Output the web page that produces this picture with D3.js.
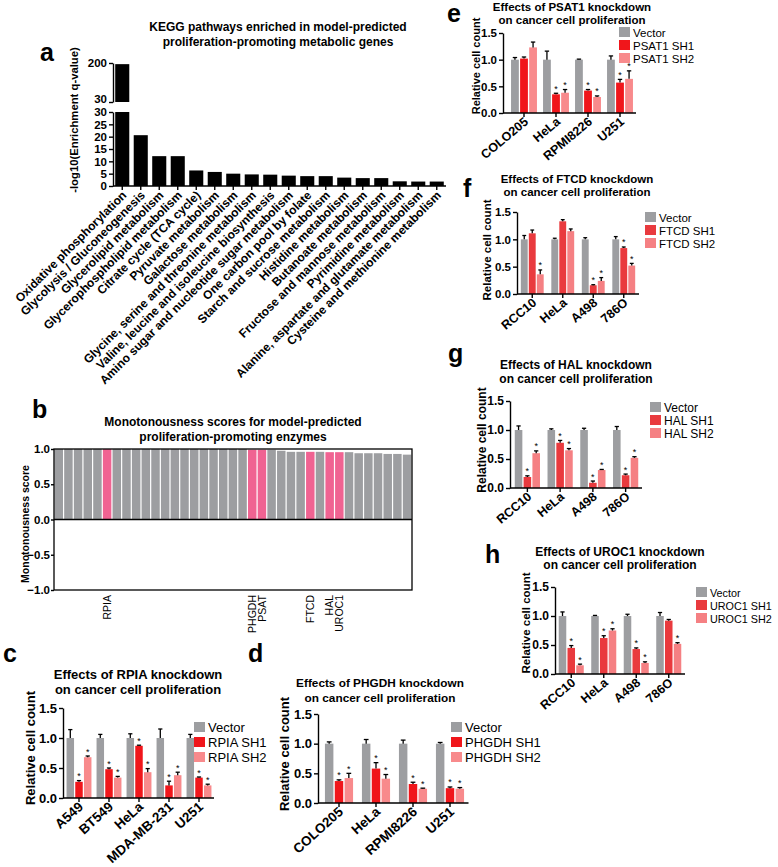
<!DOCTYPE html>
<html><head><meta charset="utf-8">
<script src="https://cdn.jsdelivr.net/npm/d3@7"></script>
<style>
body{margin:0;background:#fff;}
svg{display:block;font-family:"Liberation Sans",Arial,Helvetica,sans-serif;}
</style></head><body>
<svg id="fig" width="778" height="867"></svg>
<script>
// ---------- Panel a data ----------
const keggPathways = ["Oxidative phosphorylation","Glycolysis / Gluconeogenesis","Glycerolipid metabolism","Glycerophospholipid metabolism","Citrate cycle (TCA cycle)","Pyruvate metabolism","Galactose metabolism","Glycine, serine and threonine metabolism","Valine, leucine and isoleucine biosynthesis","Amino sugar and nucleotide sugar metabolism","One carbon pool by folate","Starch and sucrose metabolism","Histidine metabolism","Butanoate metabolism","Fructose and mannose metabolism","Pyrimidine metabolism","Alanine, aspartate and glutamate metabolism","Cysteine and methionine metabolism"];
const keggScores = [195, 20.6, 12.1, 12.1, 6.3, 5.7, 5.0, 4.7, 4.6, 4.2, 4.0, 4.0, 3.4, 3.2, 3.2, 1.9, 1.8, 1.8];
const keggLowerTicks = [0, 5, 10, 15, 20, 25, 30];
const keggUpperTicks = [30, 200];

// ---------- Panel b data ----------
const monoScores = [1,1,1,1,1,1,1,1,1,1,1,1,1,1,1,1,1,1,1,1,0.99,0.99,0.99,0.975,0.96,0.96,0.96,0.96,0.955,0.955,0.955,0.94,0.94,0.94,0.93,0.93,0.92];
const monoLabels = ["","","","","","RPIA","","","","","","","","","","","","","","","PHGDH","PSAT","","","","","FTCD","","HAL","UROC1","","","","","","",""];
const monoTicks = [-1, -0.5, 0, 0.5, 1];

// ---------- Knockdown panels data ----------
const kdTicks = [0, 0.5, 1.0, 1.5];

const rpiaCells = ["A549","BT549","HeLa","MDA-MB-231","U251"];
const rpiaLegend = ["Vector","RPIA SH1","RPIA SH2"];
const rpiaVector = [1,1,1,1,1];
const rpiaVectorErr = [0.14,0.06,0.07,0.15,0.06];
const rpiaSH1 = [0.27,0.48,0.87,0.21,0.34];
const rpiaSH1Err = [0.02,0.02,0.01,0.07,0.01];
const rpiaSH2 = [0.68,0.34,0.43,0.38,0.21];
const rpiaSH2Err = [0.02,0.02,0.06,0.05,0.02];
const rpiaSH1Sig = [1,1,1,1,1];
const rpiaSH2Sig = [1,1,1,1,1];

const phgdhCells = ["COLO205","HeLa","RPMI8226","U251"];
const phgdhLegend = ["Vector","PHGDH SH1","PHGDH SH2"];
const phgdhVector = [1,1,1,1];
const phgdhVectorErr = [0.03,0.07,0.06,0.02];
const phgdhSH1 = [0.37,0.58,0.32,0.25];
const phgdhSH1Err = [0.02,0.10,0.03,0.02];
const phgdhSH2 = [0.42,0.41,0.24,0.24];
const phgdhSH2Err = [0.08,0.07,0.01,0.02];
const phgdhSH1Sig = [1,1,1,1];
const phgdhSH2Sig = [1,1,1,1];

const psatCells = ["COLO205","HeLa","RPMI8226","U251"];
const psatLegend = ["Vector","PSAT1 SH1","PSAT1 SH2"];
const psatVector = [1,1,1,1];
const psatVectorErr = [0.04,0.16,0.01,0.07];
const psatSH1 = [1.02,0.35,0.42,0.57];
const psatSH1Err = [0.03,0.02,0.02,0.06];
const psatSH2 = [1.23,0.38,0.30,0.64];
const psatSH2Err = [0.10,0.06,0.02,0.15];
const psatSH1Sig = [0,1,1,1];
const psatSH2Sig = [0,1,1,1];

const ftcdCells = ["RCC10","HeLa","A498","786O"];
const ftcdLegend = ["Vector","FTCD SH1","FTCD SH2"];
const ftcdVector = [1,1,1,1];
const ftcdVectorErr = [0.07,0.02,0.03,0.05];
const ftcdSH1 = [1.11,1.33,0.16,0.84];
const ftcdSH1Err = [0.06,0.03,0.01,0.02];
const ftcdSH2 = [0.36,1.15,0.24,0.52];
const ftcdSH2Err = [0.08,0.04,0.06,0.04];
const ftcdSH1Sig = [0,0,1,1];
const ftcdSH2Sig = [1,0,1,1];

const halCells = ["RCC10","HeLa","A498","786O"];
const halLegend = ["Vector","HAL SH1","HAL SH2"];
const halVector = [1,1,1,1];
const halVectorErr = [0.07,0.02,0.03,0.06];
const halSH1 = [0.19,0.78,0.09,0.22];
const halSH1Err = [0.02,0.04,0.03,0.02];
const halSH2 = [0.60,0.65,0.31,0.52];
const halSH2Err = [0.04,0.03,0.01,0.02];
const halSH1Sig = [1,1,1,1];
const halSH2Sig = [1,1,1,1];

const uroc1Cells = ["RCC10","HeLa","A498","786O"];
const uroc1Legend = ["Vector","UROC1 SH1","UROC1 SH2"];
const uroc1Vector = [1,1,1,1];
const uroc1VectorErr = [0.07,0.01,0.03,0.06];
const uroc1SH1 = [0.45,0.62,0.43,0.92];
const uroc1SH1Err = [0.04,0.04,0.02,0.02];
const uroc1SH2 = [0.15,0.75,0.19,0.52];
const uroc1SH2Err = [0.02,0.03,0.02,0.02];
const uroc1SH1Sig = [1,1,1,0];
const uroc1SH2Sig = [1,1,1,1];

// ---------- drawing ----------
const GRAY = "#9d9ea1", PINK = "#f06392";
const RED_A = "#f0161b", LRED_A = "#f88a8c";
const RED_B = "#e93a3e", LRED_B = "#f58083";
const svg = d3.select("#fig");

function styleAxis(g, fs) {
  g.selectAll("path.domain").attr("stroke","#000").attr("stroke-width",1.4);
  g.selectAll(".tick line").attr("stroke","#000").attr("stroke-width",1.4);
  g.selectAll(".tick text").attr("fill","#000").attr("font-weight","bold")
    .attr("font-size",fs).attr("font-family","Liberation Sans, Arial, sans-serif");
}
function letter(t,x,y,fs){
  svg.append("text").attr("x",x).attr("y",y).attr("font-size",fs||25).attr("font-weight","bold").text(t);
}
function title(lines,cx,ys,fs){
  lines.forEach((l,i)=>svg.append("text").attr("x",cx).attr("y",ys[i]).attr("text-anchor","middle")
    .attr("font-size",fs).attr("font-weight","bold").text(l));
}

// ===== Panel a =====
(function(){
  const A = {x0:113, x1:446, yBase:186, yLowTop:112, yUpBot:102, yUpTop:63};
  const g = svg.append("g");
  const x = d3.scaleBand().domain(keggPathways).range([A.x0, A.x1]).paddingInner(0.24).paddingOuter(0.12);
  const yLow = d3.scaleLinear().domain([0,30]).range([A.yBase, A.yLowTop]);
  const yUp = d3.scaleLinear().domain([30,200]).range([A.yUpBot, A.yUpTop]);
  g.selectAll("rect.low").data(keggScores).join("rect").attr("class","low")
    .attr("x",(d,i)=>x(keggPathways[i])).attr("width",x.bandwidth())
    .attr("y",d=>yLow(Math.min(d,30))).attr("height",d=>A.yBase-yLow(Math.min(d,30))).attr("fill","#000");
  g.selectAll("rect.up").data(keggScores.map((d,i)=>({d,i})).filter(o=>o.d>30)).join("rect").attr("class","up")
    .attr("x",o=>x(keggPathways[o.i])).attr("width",x.bandwidth())
    .attr("y",o=>yUp(o.d)).attr("height",o=>A.yUpBot-yUp(o.d)).attr("fill","#000");
  const ay1 = g.append("g").attr("transform",`translate(${A.x0},0)`)
    .call(d3.axisLeft(yLow).tickValues(keggLowerTicks).tickSize(4).tickSizeOuter(0).tickPadding(2));
  styleAxis(ay1, 11.5);
  const ay2 = g.append("g").attr("transform",`translate(${A.x0},0)`)
    .call(d3.axisLeft(yUp).tickValues(keggUpperTicks).tickSize(4).tickSizeOuter(0).tickPadding(2));
  styleAxis(ay2, 11.5);
  ay2.selectAll(".tick text").filter(d=>d===30).attr("dy","0.08em");
  g.append("line").attr("x1",A.x0).attr("x2",A.x1).attr("y1",A.yBase).attr("y2",A.yBase).attr("stroke","#000").attr("stroke-width",1.4);
  g.selectAll("line.xt").data(keggPathways).join("line").attr("class","xt")
    .attr("x1",d=>x(d)+x.bandwidth()/2).attr("x2",d=>x(d)+x.bandwidth()/2)
    .attr("y1",A.yBase).attr("y2",A.yBase+4).attr("stroke","#000").attr("stroke-width",1.4);
  g.selectAll("text.xl").data(keggPathways).join("text").attr("class","xl")
    .attr("transform",d=>`translate(${x(d)+x.bandwidth()/2+5},${A.yBase+10}) rotate(-45)`)
    .attr("text-anchor","end").attr("font-size",12).attr("font-weight","bold").text(d=>d);
  g.append("text").attr("transform",`translate(78,120) rotate(-90)`).attr("text-anchor","middle")
    .attr("font-size",11.3).attr("font-weight","bold").text("-log10(Enrichment q-value)");
  title(["KEGG pathways enriched in model-predicted","proliferation-promoting metabolic genes"],278,[31,46],12);
  letter("a",40,61);
})();

// ===== Panel b =====
(function(){
  const B = {x0:54, x1:412, yTop:449, yBot:590};
  const g = svg.append("g");
  const x = d3.scaleBand().domain(d3.range(monoScores.length)).range([B.x0,B.x1]);
  const y = d3.scaleLinear().domain([-1,1]).range([B.yBot,B.yTop]);
  g.selectAll("rect.bar").data(monoScores).join("rect").attr("class","bar")
    .attr("x",(d,i)=>x(i)+0.5).attr("width",x.bandwidth()-1.2)
    .attr("y",d=>y(d)).attr("height",d=>y(0)-y(d))
    .attr("fill",(d,i)=>monoLabels[i]?PINK:GRAY);
  g.append("rect").attr("x",B.x0).attr("y",B.yTop).attr("width",B.x1-B.x0).attr("height",B.yBot-B.yTop)
    .attr("fill","none").attr("stroke","#000").attr("stroke-width",1.3);
  g.append("line").attr("x1",B.x0).attr("x2",B.x1).attr("y1",y(0)).attr("y2",y(0)).attr("stroke","#000").attr("stroke-width",1.6);
  const ay = g.append("g").attr("transform",`translate(${B.x0},0)`)
    .call(d3.axisLeft(y).tickValues(monoTicks).tickFormat(d3.format(".1f")).tickSize(3).tickSizeOuter(0).tickPadding(1));
  styleAxis(ay, 11.5);
  ay.selectAll("path.domain").remove();
  g.selectAll("text.lab").data(monoLabels.map((l,i)=>({l,i})).filter(o=>o.l)).join("text").attr("class","lab")
    .attr("transform",o=>`translate(${x(o.i)+x.bandwidth()/2+3.5},595) rotate(-90)`)
    .attr("text-anchor","end").attr("font-size",10.5).text(o=>o.l);
  g.append("text").attr("transform",`translate(29,524) rotate(-90)`).attr("text-anchor","middle")
    .attr("font-size",10.5).attr("font-weight","bold").text("Monotonousness score");
  title(["Monotonousness scores for model-predicted","proliferation-promoting enzymes"],233,[426,441],12);
  letter("b",32,418);
})();

// ===== Knockdown panels =====
function kdPanel(p){
  const g = svg.append("g");
  const x0 = d3.scaleBand().domain(p.cells).range(p.xr).paddingInner(p.pad).paddingOuter(p.pad/2);
  const x1 = d3.scaleBand().domain([0,1,2]).range([0,x0.bandwidth()]).paddingInner(0.14);
  const y = d3.scaleLinear().domain([0,1.5]).range([p.yZero,p.yTop]);
  const series = [
    {vals:p.vector, errs:p.vectorErr, sig:null, color:GRAY},
    {vals:p.sh1, errs:p.sh1Err, sig:p.sh1Sig, color:p.c1},
    {vals:p.sh2, errs:p.sh2Err, sig:p.sh2Sig, color:p.c2}];
  const flat = [];
  series.forEach((s,si)=>p.cells.forEach((c,ci)=>flat.push({c,si,v:s.vals[ci],e:s.errs[ci],sig:s.sig?s.sig[ci]:0,color:s.color})));
  const bw = x1.bandwidth();
  const cx = d=>x0(d.c)+x1(d.si)+bw/2;
  g.selectAll("rect.b").data(flat).join("rect").attr("class","b")
    .attr("x",d=>x0(d.c)+x1(d.si)).attr("width",bw)
    .attr("y",d=>y(d.v)).attr("height",d=>p.yZero-y(d.v)).attr("fill",d=>d.color);
  g.selectAll("line.eb").data(flat).join("line").attr("class","eb")
    .attr("x1",cx).attr("x2",cx).attr("y1",d=>y(d.v)).attr("y2",d=>y(d.v+d.e))
    .attr("stroke","#000").attr("stroke-width",1.3);
  g.selectAll("line.cap").data(flat).join("line").attr("class","cap")
    .attr("x1",d=>cx(d)-bw*0.28).attr("x2",d=>cx(d)+bw*0.28).attr("y1",d=>y(d.v+d.e)).attr("y2",d=>y(d.v+d.e))
    .attr("stroke","#000").attr("stroke-width",1.3);
  g.selectAll("text.st").data(flat.filter(d=>d.sig)).join("text").attr("class","st")
    .attr("x",cx).attr("y",d=>y(d.v+d.e)-1.5).attr("text-anchor","middle")
    .attr("font-size",9).text("*");
  const ay = g.append("g").attr("transform",`translate(${p.yAxisX},0)`)
    .call(d3.axisLeft(y).tickValues(kdTicks).tickFormat(d3.format(".1f")).tickSize(4).tickSizeOuter(0).tickPadding(2));
  styleAxis(ay, p.tickFs);
  g.append("line").attr("x1",p.yAxisX).attr("x2",p.xr[1]).attr("y1",p.yZero).attr("y2",p.yZero).attr("stroke","#000").attr("stroke-width",1.4);
  g.selectAll("line.xt").data(p.cells).join("line").attr("class","xt")
    .attr("x1",d=>x0(d)+x0.bandwidth()/2).attr("x2",d=>x0(d)+x0.bandwidth()/2)
    .attr("y1",p.yZero).attr("y2",p.yZero+4).attr("stroke","#000").attr("stroke-width",1.4);
  g.selectAll("text.xl").data(p.cells).join("text").attr("class","xl")
    .attr("transform",d=>`translate(${x0(d)+x0.bandwidth()/2+5},${p.yZero+10}) rotate(${p.angle})`)
    .attr("text-anchor","end").attr("font-size",p.xFs).attr("font-weight","bold").text(d=>d);
  g.append("text").attr("transform",`translate(${p.ytX},${p.ytY}) rotate(-90)`).attr("text-anchor","middle")
    .attr("font-size",p.ytFs).attr("font-weight","bold").text("Relative cell count");
  const cols = [GRAY,p.c1,p.c2];
  p.legend.forEach((l,i)=>{
    g.append("rect").attr("x",p.legX).attr("y",p.legY[i]-5).attr("width",11).attr("height",10).attr("fill",cols[i]);
    g.append("text").attr("x",p.legX+14).attr("y",p.legY[i]+4.5).attr("font-size",p.legFs).text(l);
  });
  title(p.title,p.titleX,p.titleY,p.titleFs);
  letter(p.letter,p.letterX,p.letterY);
}

kdPanel({cells:rpiaCells,legend:rpiaLegend,vector:rpiaVector,vectorErr:rpiaVectorErr,sh1:rpiaSH1,sh1Err:rpiaSH1Err,sh2:rpiaSH2,sh2Err:rpiaSH2Err,sh1Sig:rpiaSH1Sig,sh2Sig:rpiaSH2Sig,
  c1:RED_A,c2:LRED_A,xr:[64,214],pad:0.17,yAxisX:63,yZero:798,yTop:708,tickFs:13,xFs:13.5,angle:-42,
  ytX:35,ytY:748,ytFs:13,legX:194,legY:[727,742,757],legFs:13,
  title:["Effects of RPIA knockdown","on cancer cell proliferation"],titleX:138,titleY:[679,694],titleFs:13,
  letter:"c",letterX:3,letterY:662});

kdPanel({cells:phgdhCells,legend:phgdhLegend,vector:phgdhVector,vectorErr:phgdhVectorErr,sh1:phgdhSH1,sh1Err:phgdhSH1Err,sh2:phgdhSH2,sh2Err:phgdhSH2Err,sh1Sig:phgdhSH1Sig,sh2Sig:phgdhSH2Sig,
  c1:RED_A,c2:LRED_A,xr:[320.5,468.5],pad:0.24,yAxisX:318,yZero:803,yTop:714,tickFs:13,xFs:13.5,angle:-42,
  ytX:289,ytY:754,ytFs:13,legX:451,legY:[727,742,757],legFs:13,
  title:["Effects of PHGDH knockdown","on cancer cell proliferation"],titleX:380,titleY:[687,702],titleFs:11.8,
  letter:"d",letterX:248,letterY:662});

kdPanel({cells:psatCells,legend:psatLegend,vector:psatVector,vectorErr:psatVectorErr,sh1:psatSH1,sh1Err:psatSH1Err,sh2:psatSH2,sh2Err:psatSH2Err,sh1Sig:psatSH1Sig,sh2Sig:psatSH2Sig,
  c1:RED_A,c2:LRED_A,xr:[508,636],pad:0.19,yAxisX:503,yZero:113,yTop:33,tickFs:11.5,xFs:12.5,angle:-40,
  ytX:480,ytY:66,ytFs:11,legX:619,legY:[32,45,58],legFs:11.5,
  title:["Effects of PSAT1 knockdown","on cancer cell proliferation"],titleX:572,titleY:[11,24],titleFs:11.5,
  letter:"e",letterX:447,letterY:22});

kdPanel({cells:ftcdCells,legend:ftcdLegend,vector:ftcdVector,vectorErr:ftcdVectorErr,sh1:ftcdSH1,sh1Err:ftcdSH1Err,sh2:ftcdSH2,sh2Err:ftcdSH2Err,sh1Sig:ftcdSH1Sig,sh2Sig:ftcdSH2Sig,
  c1:RED_B,c2:LRED_B,xr:[517,639],pad:0.25,yAxisX:517,yZero:294,yTop:212,tickFs:11.5,xFs:12.5,angle:-40,
  ytX:491,ytY:250,ytFs:11.5,legX:645,legY:[217,230,243],legFs:11.5,
  title:["Effects of FTCD knockdown","on cancer cell proliferation"],titleX:577,titleY:[183,196],titleFs:11.5,
  letter:"f",letterX:463,letterY:197});

kdPanel({cells:halCells,legend:halLegend,vector:halVector,vectorErr:halVectorErr,sh1:halSH1,sh1Err:halSH1Err,sh2:halSH2,sh2Err:halSH2Err,sh1Sig:halSH1Sig,sh2Sig:halSH2Sig,
  c1:RED_B,c2:LRED_B,xr:[511,642],pad:0.23,yAxisX:510,yZero:488,yTop:401,tickFs:12,xFs:12.5,angle:-40,
  ytX:486,ytY:440,ytFs:12,legX:650,legY:[407,420,433],legFs:12,
  title:["Effects of HAL knockdown","on cancer cell proliferation"],titleX:576,titleY:[369,383],titleFs:12,
  letter:"g",letterX:448,letterY:362});

kdPanel({cells:uroc1Cells,legend:uroc1Legend,vector:uroc1Vector,vectorErr:uroc1VectorErr,sh1:uroc1SH1,sh1Err:uroc1SH1Err,sh2:uroc1SH2,sh2Err:uroc1SH2Err,sh1Sig:uroc1SH1Sig,sh2Sig:uroc1SH2Sig,
  c1:RED_B,c2:LRED_B,xr:[555,685],pad:0.23,yAxisX:555,yZero:674,yTop:587,tickFs:12,xFs:12.5,angle:-40,
  ytX:530,ytY:623,ytFs:11.5,legX:696,legY:[592,605,618],legFs:10.8,
  title:["Effects of UROC1 knockdown","on cancer cell proliferation"],titleX:620,titleY:[556,569],titleFs:12,
  letter:"h",letterX:485,letterY:563});
</script></body></html>
